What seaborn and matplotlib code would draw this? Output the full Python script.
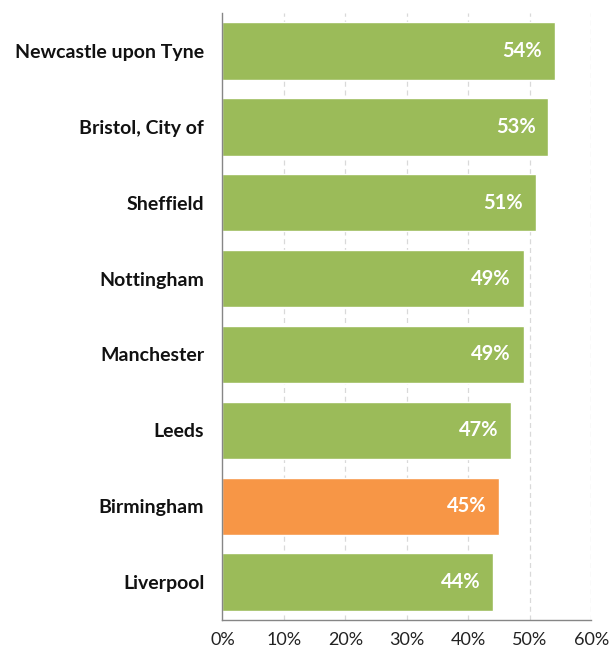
import matplotlib
matplotlib.use("Agg")
import matplotlib.pyplot as plt
import seaborn as sns
import pandas as pd
import numpy as np
from matplotlib.ticker import FixedLocator, PercentFormatter

cities = ["Newcastle upon Tyne", "Bristol, City of", "Sheffield", "Nottingham",
          "Manchester", "Leeds", "Birmingham", "Liverpool"]
shares = [54, 53, 51, 49, 49, 47, 45, 44]
highlight = "Birmingham"

GREEN = "#9BBB59"
ORANGE = "#F79646"

df = pd.DataFrame({"city": cities, "share": shares})
palette = {c: (ORANGE if c == highlight else GREEN) for c in cities}

sns.set_theme(style="white")
plt.rcParams["font.family"] = ["Lato", "DejaVu Sans"]

fig = plt.figure(figsize=(6.11, 6.54), dpi=100)
ax = fig.add_axes([0.364, 0.052, 0.604, 0.928])

sns.barplot(data=df, x="share", y="city", hue="city", palette=palette,
            order=cities, width=0.755, legend=False, saturation=1, ax=ax)

ax.set_xlim(0, 60)
ax.set_ylim(len(cities) - 0.5, -0.5)
ax.set_xticks(np.arange(0, 61, 10))
ax.xaxis.set_major_formatter(PercentFormatter(decimals=0))
ax.set_xlabel("")
ax.set_ylabel("")

# dashed vertical gridlines
for x in np.arange(10, 61, 10):
    ax.axvline(x, color="#D9D9D9", lw=0.9, ls=(0, (4, 3)), zorder=0)

for s in ["top", "right"]:
    ax.spines[s].set_visible(False)
for s in ["left", "bottom"]:
    ax.spines[s].set_color("#868686")
    ax.spines[s].set_linewidth(1.0)

ax.tick_params(axis="x", direction="inout", length=9, width=1, color="#868686",
               labelsize=13, labelcolor="#222222", pad=4)
ax.tick_params(axis="y", which="major", length=0, labelsize=14, pad=13,
               labelcolor="#111111")
for lab in ax.get_yticklabels():
    lab.set_fontweight("bold")
ax.yaxis.set_minor_locator(FixedLocator(np.arange(-0.5, len(cities), 1)))
ax.tick_params(axis="y", which="minor", direction="out", length=5, width=1,
               color="#868686")

for i, v in enumerate(shares):
    ax.text(v - 2.1, i, f"{v}%", ha="right", va="center", color="white",
            fontsize=14.5, fontweight="bold")

fig.savefig("out.png", dpi=100)
